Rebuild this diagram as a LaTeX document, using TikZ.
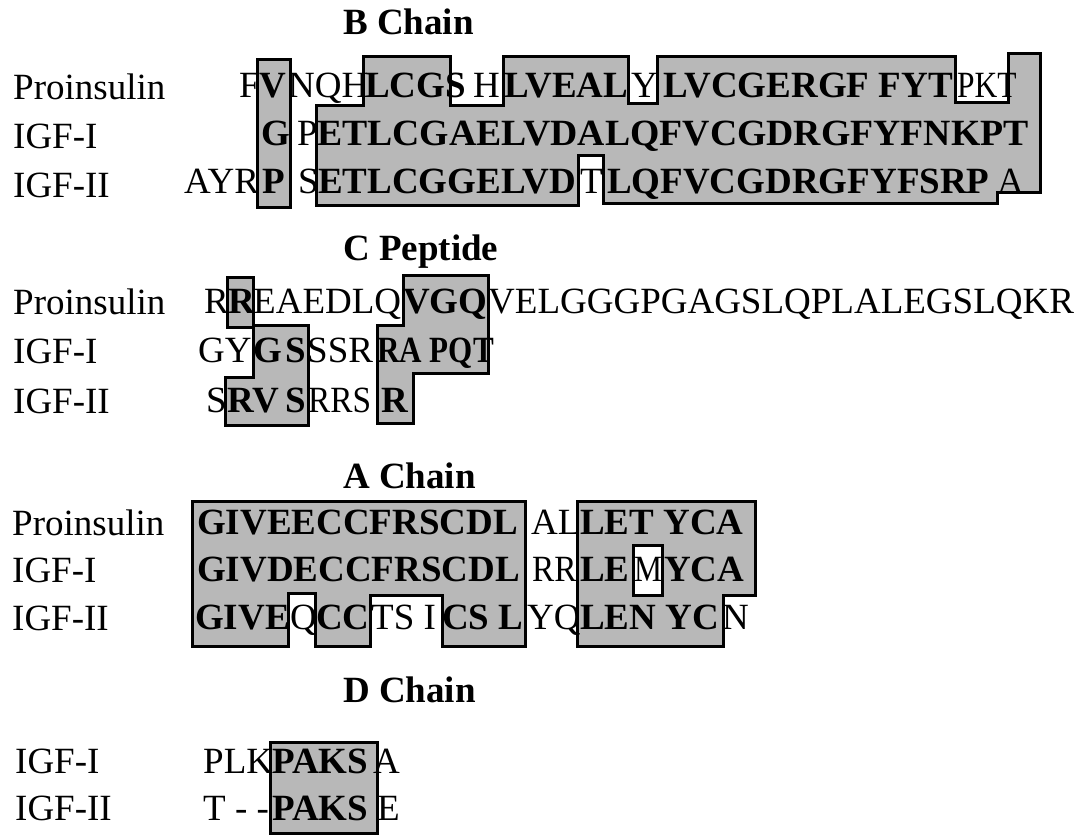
\documentclass[tikz,border=0pt]{standalone}
\usepackage{fontspec}
\setmainfont{Liberation Serif}
\newcommand{\squeezed}[2]{\scalebox{#1}[1]{#2}}
\tikzset{
  seq/.style={anchor=base west, inner sep=0pt, font=\fontsize{37}{40}\selectfont},
  hit/.style={seq, font=\fontsize{37}{40}\selectfont\bfseries},
  block/.style={fill=black!28, draw=black, line width=3pt, line join=miter},
  hole/.style={fill=white, draw=black, line width=3pt}
}
\begin{document}
\begin{tikzpicture}[x=1pt, y=-1pt]
\useasboundingbox (0,0) rectangle (1086,835);
% B chain
\draw[block] (257,59) rectangle (290,207);
\draw[block] (363,56) -- (450,56) -- (450,105) -- (503,105) -- (503,56) -- (628,56) -- (628,103) -- (657,103) -- (657,56) -- (955,56) -- (955,102) -- (1008,102) -- (1008,53) -- (1040,53) -- (1040,192) -- (997,192) -- (997,203) -- (603,203) -- (603,155) -- (578,155) -- (578,205) -- (316,205) -- (316,105) -- (363,105) -- cycle;
\node[hit] (bt) at (343,34) {B Chain};
\node[seq] (bp) at (13,99) {Proinsulin};
\node[seq] (bi) at (13,148) {IGF-I};
\node[seq] (bj) at (13,197) {IGF-II};
\node[seq] (b11) at (239,97) {F};
\node[hit] (b12) at (259,97) {V};
\node[seq] (b13) at (288,97) {NQH};
\node[hit] (b14) at (365,97) {LCGS};
\node[seq] (b15) at (473,97) {H};
\node[hit] (b16) at (504,97) {LVEAL};
\node[seq] (b17) at (631,97) {Y};
\node[hit] (b18) at (663,97) {LVCGERGF FYT};
\node[seq] (b19) at (957,97) {\squeezed{0.85}{PKT}};
\node[hit] (b21) at (261,145) {G};
\node[seq] (b22) at (297,145) {P};
\node[hit] (b23) at (317,145) {\squeezed{1.02}{ETLCGAELVDALQFVCGDRGFYFNKPT}};
\node[seq] (b31) at (184,193) {AYR};
\node[hit] (b32) at (262,193) {P};
\node[seq] (b33) at (298,193) {S};
\node[hit] (b34) at (318,193) {ETLCGGELVD};
\node[seq] (b35) at (580,193) {T};
\node[hit] (b36) at (607,193) {LQFVCGDRGFYFSRP};
\node[seq] (b37) at (997,193) {A};
% C peptide
\draw[block] (227,277) rectangle (253,327);
\draw[block] (253,325) -- (308,325) -- (308,425) -- (225,425) -- (225,377) -- (253,377) -- cycle;
\draw[block] (403,275) -- (488,275) -- (488,373) -- (413,373) -- (413,423) -- (377,423) -- (377,325) -- (403,325) -- cycle;
\node[hit] (ct) at (343,260) {C Peptide};
\node[seq] (cp) at (13,314) {Proinsulin};
\node[seq] (ci) at (13,363) {IGF-I};
\node[seq] (cj) at (13,413) {IGF-II};
\node[seq] (c11) at (204,313) {R};
\node[hit] (c12) at (228,313) {R};
\node[seq] (c13) at (253,313) {EAEDLQ};
\node[hit] (c14) at (403,313) {VGQ};
\node[seq] (c15) at (488,313) {VELGGGPGAGSLQPLALEGSLQKR};
\node[seq] (c21) at (198,362) {GY};
\node[hit] (c22) at (253,362) {G};
\node[hit] (c23) at (285,362) {S};
\node[seq] (c24) at (307,362) {SSR};
\node[hit] (c25) at (377,362) {\squeezed{0.84}{RA PQT}};
\node[seq] (c31) at (206,412) {S};
\node[hit] (c32) at (227,412) {RV};
\node[hit] (c33) at (285,412) {S};
\node[seq] (c34) at (308,412) {\squeezed{0.9}{RRS}};
\node[hit] (c35) at (381,412) {R};
% A chain
\draw[block] (192,501) -- (525,501) -- (525,646) -- (442,646) -- (442,595) -- (370,595) -- (370,646) -- (315,646) -- (315,593) -- (288,593) -- (288,646) -- (192,646) -- cycle;
\draw[block] (577,501) -- (755,501) -- (755,595) -- (723,595) -- (723,646) -- (577,646) -- cycle;
\draw[hole] (633,545) rectangle (662,595);
\node[hit] (at) at (343,488) {A Chain};
\node[seq] (ap) at (12,535) {Proinsulin};
\node[seq] (ai) at (12,582) {IGF-I};
\node[seq] (aj) at (12,630) {IGF-II};
\node[hit] (a11) at (197,534) {GIVEECCFRSCDL};
\node[seq] (a12) at (531,534) {AL};
\node[hit] (a13) at (580,534) {LET YCA};
\node[hit] (a21) at (197,581) {GIVDECCFRSCDL};
\node[seq] (a22) at (532,581) {\squeezed{0.9}{RR}};
\node[hit] (a23) at (580,581) {LE};
\node[seq] (a24) at (634,581) {\squeezed{0.85}{M}};
\node[hit] (a25) at (664,581) {YCA};
\node[hit] (a31) at (195,629) {GIVE};
\node[seq] (a32) at (290,629) {Q};
\node[hit] (a33) at (316,629) {CC};
\node[seq] (a34) at (371,629) {TS I};
\node[hit] (a35) at (442,629) {CS L};
\node[seq] (a36) at (527,629) {YQ};
\node[hit] (a37) at (580,629) {LEN YC};
\node[seq] (a38) at (722,629) {N};
% D chain
\draw[block] (270,742) rectangle (377,833);
\node[hit] (dt) at (343,702) {D Chain};
\node[seq] (di) at (15,773) {IGF-I};
\node[seq] (dj) at (15,820) {IGF-II};
\node[seq] (d11) at (203,773) {PLK};
\node[hit] (d12) at (272,773) {PAKS};
\node[seq] (d13) at (373,773) {A};
\node[seq] (d21) at (203,820) {T - -};
\node[hit] (d22) at (272,820) {PAKS};
\node[seq] (d23) at (377,820) {E};
\end{tikzpicture}
\end{document}
